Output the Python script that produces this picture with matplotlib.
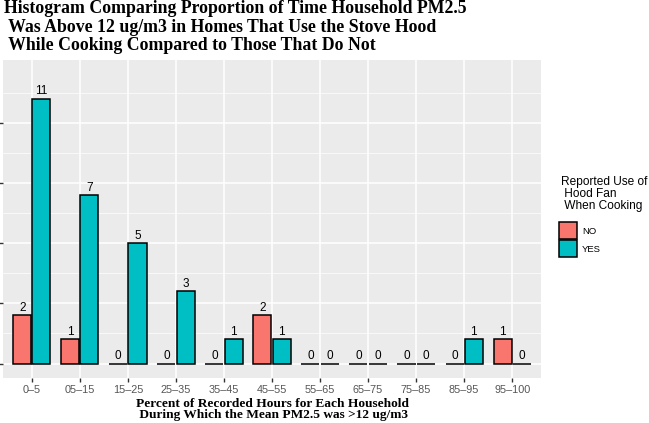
import matplotlib
matplotlib.use("Agg")
import matplotlib.pyplot as plt
from matplotlib.patches import Rectangle
import numpy as np

categories = ["0–5", "05–15", "15–25", "25–35", "35–45", "45–55", "55–65", "65–75", "75–85", "85–95", "95–100"]
no_counts = [2, 1, 0, 0, 0, 2, 0, 0, 0, 0, 1]
yes_counts = [11, 7, 5, 3, 1, 1, 0, 0, 0, 1, 0]
groups = ["NO", "YES"]
colors = ["#F8766D", "#00BFC4"]

W, H = 649, 423
fig = plt.figure(figsize=(W / 100, H / 100), dpi=100)
left, right, top, bottom = 3, 541, 60, 378
ax = fig.add_axes([left / W, 1 - bottom / H, (right - left) / W, (bottom - top) / H])
ax.set_facecolor("#EBEBEB")

x = np.arange(1, len(categories) + 1)
bw = 0.375
off = 0.2
for vals, col, d in [(no_counts, colors[0], -off), (yes_counts, colors[1], off)]:
    ax.bar(x + d, vals, width=bw, color=col, edgecolor="black", linewidth=1.1, zorder=3)
    for xi, v in zip(x + d, vals):
        ax.text(xi, v + 0.17, str(v), ha="center", va="baseline", fontsize=8.5,
                family="Liberation Sans", color="black", zorder=4)

ax.set_xlim(0.4, len(categories) + 0.6)
ax.set_ylim(-0.6, 12.6)
ax.set_yticks([0, 2.5, 5, 7.5, 10])
ax.set_yticks([1.25, 3.75, 6.25, 8.75, 11.25], minor=True)
ax.set_yticklabels([])
ax.set_xticks(x)
ax.set_xticklabels(categories, fontsize=7.8, color="#555555", family="Liberation Sans")
ax.grid(which="major", color="white", linewidth=1.1, zorder=0)
ax.grid(which="minor", axis="y", color="white", linewidth=0.5, zorder=0)
ax.tick_params(axis="both", which="major", length=3, color="#333333", width=1)
ax.tick_params(axis="y", which="minor", length=0)
ax.tick_params(axis="x", pad=2)
for s in ax.spines.values():
    s.set_visible(False)

ax.set_xlabel("Percent of Recorded Hours for Each Household\n During Which the Mean PM2.5 was >12 ug/m3",
              fontsize=9.6, fontweight="bold", family="Liberation Serif", labelpad=2, linespacing=0.95)

fig.text(4 / W, 1 - 0 / H,
         "Histogram Comparing Proportion of Time Household PM2.5\n Was Above 12 ug/m3 in Homes That Use the Stove Hood\n While Cooking Compared to Those That Do Not",
         ha="left", va="top", fontsize=12.8, fontweight="bold", family="Liberation Serif", linespacing=1.12)

# legend
fig.text(561 / W, 1 - 176 / H, "Reported Use of\n Hood Fan\n When Cooking", ha="left", va="top",
         fontsize=8.6, family="Liberation Sans", linespacing=1.0)
for i, (g, c) in enumerate(zip(groups, colors)):
    y0 = 222 + i * 18
    fig.add_artist(Rectangle((559 / W, 1 - (y0 + 17) / H), 18 / W, 17 / H, facecolor=c,
                             edgecolor="black", linewidth=1.1, transform=fig.transFigure))
    fig.text(582 / W, 1 - (y0 + 9) / H, g, ha="left", va="center", fontsize=6.8,
             family="Liberation Sans")

fig.savefig("out.png", dpi=100)
